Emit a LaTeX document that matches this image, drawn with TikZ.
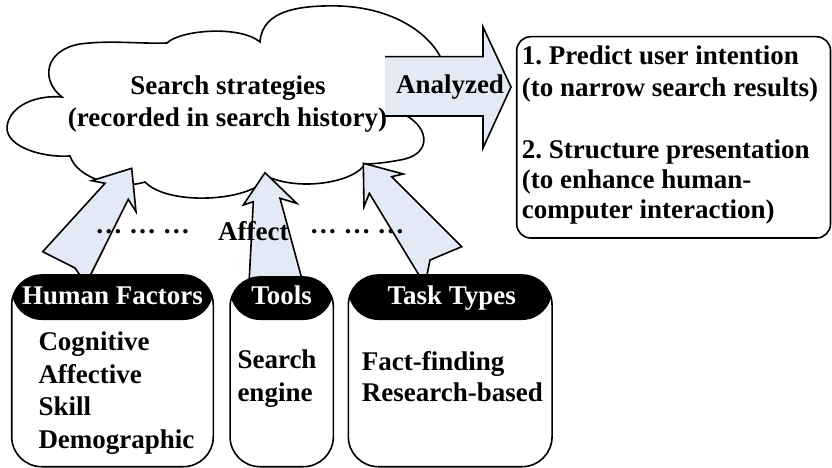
\documentclass[tikz,border=0pt]{standalone}
\usepackage{fontspec}
\setmainfont{Liberation Serif}
\frenchspacing
\definecolor{arrowfill}{RGB}{227,234,246}
\tikzset{
  outline/.style={line width=1.6pt, line join=miter},
  blockarrow/.style={outline, draw=black, fill=arrowfill},
  lbl/.style={font=\fontsize{27pt}{30.7pt}\selectfont\bfseries, inner sep=0pt},
  catbox/.style={draw, line width=1.6pt, fill=white, rounded corners=30pt, inner sep=0pt,
    path picture={\fill[black] (path picture bounding box.north west) rectangle
      ([yshift=-#1]path picture bounding box.north east);}},
  goalbox/.style={draw, line width=1.6pt, fill=white, rounded corners=14pt, inner sep=0pt}
}
\begin{document}
\begin{tikzpicture}[x=1pt,y=-1pt]
\useasboundingbox (0,0) rectangle (832,468);

% the cloud holding the search strategies
\draw[outline, fill=white] (62,97)
  .. controls (40,80) and (45,50) .. (80,44)
  .. controls (110,40) and (140,44) .. (167,43)
  .. controls (180,30) and (240,25) .. (260,42)
  .. controls (262,10) and (300,5) .. (340,6)
  .. controls (392,8) and (428,32) .. (441,58)
  -- (455,87) -- (405,115)
  .. controls (430,128) and (432,155) .. (400,160)
  .. controls (390,162) and (375,164) .. (365,164)
  .. controls (355,182) and (300,192) .. (266,176)
  .. controls (260,200) and (170,208) .. (145,182)
  .. controls (120,190) and (78,180) .. (70,156)
  .. controls (40,158) and (0,145) .. (8,122)
  .. controls (14,103) and (40,95) .. cycle;
\node[lbl, anchor=base] (cloudtop) at (228,95) {Search strategies};
\node[lbl, anchor=base] (cloudsub) at (227.5,126.5) {(recorded in search history)};

% "Analyzed" block arrow
\fill[arrowfill] (385,56.7) -- (483,56.7) -- (483,27) -- (511,87) -- (483,148)
  -- (483,116) -- (385,116) -- cycle;
\draw[outline] (385,56.7) -- (483,56.7) -- (483,27) -- (511,87) -- (483,148)
  -- (483,116) -- (385,116);
\node[lbl, anchor=base] (analyzed) at (450,94) {Analyzed};

% "Affect" block arrows rising from the three categories
\draw[blockarrow] (131.7,168.3) -- (136,211.7) -- (128.3,199.3) -- (86,284)
  -- (75,268) -- (42.7,251.7) -- (105,183.3) -- (91.7,180.7) -- cycle;
\draw[blockarrow] (265,172.7) -- (296.7,203.3) -- (280,198.3) -- (306.3,295)
  -- (248.4,295) -- (253.3,201.7) -- (243.3,205) -- cycle;
\draw[blockarrow] (363.3,163.3) -- (403.3,174) -- (391.7,176.7) -- (461.7,246.7)
  -- (430,260) -- (425,285) -- (369.3,193.3) -- (364,206.7) -- cycle;

\node[lbl, anchor=base] (dotsleft) at (142.5,233.5) {… … …};
\node[lbl, anchor=base] (affect) at (253.3,240) {Affect};
\node[lbl, anchor=base] (dotsright) at (357,233.5) {… … …};

% category boxes with black headers
\node[catbox=45pt, minimum width=201.6pt, minimum height=191.7pt] (human) at (112.5,370.85) {};
\node[catbox=43pt, minimum width=103.3pt, minimum height=189.7pt] (tools) at (281.7,371.85) {};
\node[catbox=45pt, minimum width=203.7pt, minimum height=191.7pt] (tasks) at (450.2,370.85) {};

\node[lbl, text=white, anchor=base] (humanhead) at (112.5,304.3) {Human Factors};
\node[lbl, text=white, anchor=base] (toolshead) at (281.7,304.3) {Tools};
\node[lbl, text=white, anchor=base] (taskshead) at (451.7,304.3) {Task Types};

\node[lbl, anchor=base west] (h1) at (38.3,350) {Cognitive};
\node[lbl, anchor=base west] (h2) at (38.3,383.3) {Affective};
\node[lbl, anchor=base west] (h3) at (38.3,415) {Skill};
\node[lbl, anchor=base west] (h4) at (38.3,448.3) {Demographic};

\node[lbl, anchor=base west] (t1) at (237.3,368.3) {Search};
\node[lbl, anchor=base west] (t2) at (237.3,401.7) {engine};

\node[lbl, anchor=base west] (k1) at (361.7,370) {Fact-finding};
\node[lbl, anchor=base west] (k2) at (361.7,401.7) {Research-based};

% outcome box
\node[goalbox, minimum width=313.8pt, minimum height=201.3pt] (goals) at (673.6,137.35) {};
\node[lbl, anchor=base west] (g1) at (521.7,65) {1. Predict user intention};
\node[lbl, anchor=base west] (g2) at (521.7,96.7) {(to narrow search results)};
\node[lbl, anchor=base west] (g3) at (521.7,158.3) {2. Structure presentation};
\node[lbl, anchor=base west] (g4) at (521.7,188.3) {(to enhance human-};
\node[lbl, anchor=base west] (g5) at (521.7,218.3) {computer interaction)};
\end{tikzpicture}
\end{document}
